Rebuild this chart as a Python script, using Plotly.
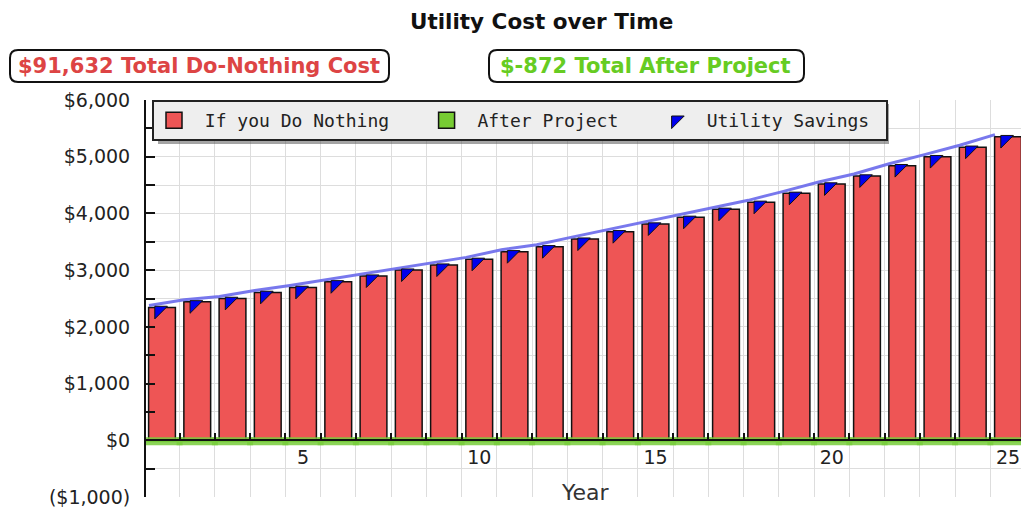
import plotly.graph_objects as go

# ---- data ----
years = list(range(1, 26))
do_nothing = [2342, 2441, 2501, 2607, 2695, 2794, 2895, 3001, 3089, 3190,
              3324, 3412, 3548, 3677, 3813, 3931, 4072, 4196, 4355, 4519,
              4660, 4842, 5001, 5167, 5354]
after_project = [-35, -35, -35, -35, -35, -35, -35, -34, -35, -35,
                 -35, -35, -34, -35, -35, -35, -35, -35, -34, -35,
                 -35, -35, -35, -35, -35]
utility_savings = [d - a for d, a in zip(do_nothing, after_project)]
y_tickvals = [-1000, 0, 1000, 2000, 3000, 4000, 5000, 6000]
y_ticktext = ["($1,000)", "$0", "$1,000", "$2,000", "$3,000", "$4,000", "$5,000", "$6,000"]
x_tickvals = [5, 10, 15, 20, 25]
series_names = ["If you Do Nothing", "After Project", "Utility Savings"]
title_text = "Utility Cost over Time"
total_nothing_text = "$91,632 Total Do-Nothing Cost"
total_after_text = "$-872 Total After Project"
x_title = "Year"

RED, GREEN, BLUE = "#ee5555", "#77cc33", "#0000ee"

# ---- geometry helpers (pixel -> paper) ----
W, H = 1021, 508
ML, MR, MT, MB = 146, 0, 100, 11
PW, PH = W - ML - MR, H - MT - MB
def px(x):
    return (x - ML) / PW
def py(y):
    return (H - MB - y) / PH

YMIN, YMAX = -1000, 6000
XMIN, XMAX = 0.546, 25.369
units_per_px = (YMAX - YMIN) / PH
marker_drop = 5 * units_per_px

NB = "\u00a0"
fig = go.Figure()
fig.add_trace(go.Bar(
    x=years, y=do_nothing, width=0.76, name=series_names[0], showlegend=False,
    marker=dict(color=RED, line=dict(color="#111111", width=1.5)),
))
fig.add_trace(go.Bar(
    x=years, y=after_project, width=1.0, name=series_names[1], showlegend=False,
    marker=dict(color="#66bb33", line=dict(color="rgba(120,205,60,0.85)", width=6)),
))
fig.add_trace(go.Scatter(
    x=[y - 0.37 for y in years], y=utility_savings, mode="lines",
    line=dict(color="rgba(105,105,235,0.9)", width=3), showlegend=False,
    hoverinfo="skip",
))
fig.add_trace(go.Scatter(
    x=[y - 0.085 for y in years], y=utility_savings, yaxis="y2", mode="markers",
    name=series_names[2], showlegend=False,
    marker=dict(symbol="triangle-nw", size=14, color=BLUE,
                line=dict(color="#111111", width=1)),
))
# legend entries (same series, larger legend symbols)
fig.add_trace(go.Scatter(x=[None], y=[None], mode="markers", name=NB + series_names[0] + NB * 3,
                         marker=dict(symbol="square", size=18, color=RED,
                                     line=dict(color="#111111", width=1.5))))
fig.add_trace(go.Scatter(x=[None], y=[None], mode="markers", name=NB + series_names[1] + NB * 3,
                         marker=dict(symbol="square", size=18, color=GREEN,
                                     line=dict(color="#111111", width=1.5))))
fig.add_trace(go.Scatter(x=[None], y=[None], mode="markers", name=NB + series_names[2] + NB,
                         marker=dict(symbol="triangle-nw", size=14, color=BLUE,
                                     line=dict(color="#111111", width=1))))

fig.update_layout(
    width=W, height=H,
    margin=dict(l=ML, r=MR, t=MT, b=MB, autoexpand=False),
    paper_bgcolor="white", plot_bgcolor="white",
    barmode="overlay",
    showlegend=True,
    font=dict(family="DejaVu Sans", color="#222222"),
    xaxis=dict(
        range=[XMIN, XMAX], anchor="free", position=(0 - YMIN) / (YMAX - YMIN),
        showline=True, linecolor="#111111", linewidth=2,
        tickmode="array", tickvals=x_tickvals, ticks="", showgrid=False,
        zeroline=False, tickfont=dict(size=19, color="#222222"),
        minor=dict(tick0=0.5, dtick=1, ticks="inside", ticklen=6,
                   tickcolor="#111111", tickwidth=2,
                   showgrid=True, gridcolor="#dddddd", gridwidth=1),
    ),
    yaxis=dict(
        range=[YMIN, YMAX], tickmode="array", tickvals=y_tickvals, ticktext=y_ticktext,
        ticks="inside", ticklen=9, tickwidth=2, tickcolor="#111111",
        showline=True, linecolor="#111111", linewidth=2,
        showgrid=True, gridcolor="#dddddd", gridwidth=1, zeroline=False,
        tickfont=dict(size=19, color="#222222"), ticklabelstandoff=10,
        minor=dict(tick0=0, dtick=500, ticks="inside", ticklen=9,
                   tickcolor="#111111", tickwidth=2,
                   showgrid=True, gridcolor="#dddddd", gridwidth=1),
    ),
    yaxis2=dict(range=[YMIN + marker_drop, YMAX + marker_drop],
                overlaying="y", visible=False),
    legend=dict(
        orientation="h", x=px(152), y=1, xanchor="left", yanchor="top",
        bgcolor="#eeeeee", bordercolor="#222222", borderwidth=2,
        font=dict(family="DejaVu Sans Mono", size=18, color="#222222"),
        traceorder="normal", itemsizing="trace",
    ),
)

def rounded_rect(x0p, y0p, x1p, y1p, r=8):
    x0, x1 = px(x0p), px(x1p)
    y0, y1 = py(y0p), py(y1p)
    rx = r / PW
    ry = r / PH
    return (f"M {x0+rx},{y0} L {x1-rx},{y0} Q {x1},{y0} {x1},{y0-ry} "
            f"L {x1},{y1+ry} Q {x1},{y1} {x1-rx},{y1} L {x0+rx},{y1} "
            f"Q {x0},{y1} {x0},{y1+ry} L {x0},{y0-ry} Q {x0},{y0} {x0+rx},{y0} Z")

shapes = [
    dict(type="path", xref="paper", yref="paper", path=rounded_rect(10, 50, 389, 82),
         line=dict(color="#111111", width=2), fillcolor="white", layer="above"),
    dict(type="path", xref="paper", yref="paper", path=rounded_rect(489, 50, 804, 82),
         line=dict(color="#111111", width=2), fillcolor="white", layer="above"),
    dict(type="rect", xref="paper", yref="paper", x0=px(158), x1=px(889), y0=py(144), y1=py(104),
         line=dict(width=0), fillcolor="rgba(90,90,90,0.55)", layer="above"),
]
fig.update_layout(shapes=shapes)

def ann(text, x, y, size, color, bold=False):
    return dict(text=f"<b>{text}</b>" if bold else text, x=px(x), y=py(y),
                xref="paper", yref="paper", xanchor="center", yanchor="middle",
                showarrow=False, font=dict(family="DejaVu Sans", size=size, color=color))

annotations = [
    ann(title_text, 541, 21, 21.5, "#111111", bold=True),
    ann(total_nothing_text, 198.5, 66, 21, "#dd4444", bold=True),
    ann(total_after_text, 645, 66, 21, "#66cc22", bold=True),
    ann(x_title, 585, 492, 22, "#333333"),
]
fig.update_layout(annotations=annotations)

fig.write_html(
    "out.html",
    config={"displayModeBar": False},
    post_script="document.body.style.margin='0';document.documentElement.style.overflow='hidden';",
)
